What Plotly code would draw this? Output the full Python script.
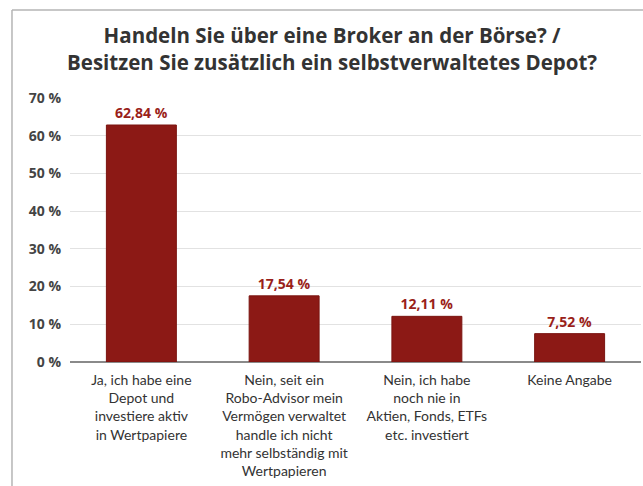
import plotly.graph_objects as go

title_lines = [
    "Handeln Sie über eine Broker an der Börse? /",
    "Besitzen Sie zusätzlich ein selbstverwaltetes Depot?",
]
categories = [
    "Ja, ich habe eine<br>Depot und<br>investiere aktiv<br>in Wertpapiere",
    "Nein, seit ein<br>Robo-Advisor mein<br>Vermögen verwaltet<br>handle ich nicht<br>mehr selbständig mit<br>Wertpapieren",
    "Nein, ich habe<br>noch nie in<br>Aktien, Fonds, ETFs<br>etc. investiert",
    "Keine Angabe",
]
values = [62.84, 17.54, 12.11, 7.52]
value_labels = ["62,84 %", "17,54 %", "12,11 %", "7,52 %"]
tick_vals = [0, 10, 20, 30, 40, 50, 60, 70]
tick_text = ["0 %", "10 %", "20 %", "30 %", "40 %", "50 %", "60 %", "70 %"]

fig = go.Figure(go.Bar(
    x=categories, y=values,
    text=value_labels, textposition="outside",
    textfont=dict(family="Open Sans", size=14, color="#9a1f1a", weight="bold"),
    marker=dict(color="#8c1915", line=dict(color="#7a1410", width=1)),
    width=0.49, cliponaxis=False,
))

fig.update_layout(
    width=643, height=486,
    margin=dict(l=70, r=2, t=98, b=124),
    paper_bgcolor="white", plot_bgcolor="white",
    showlegend=False,
    font=dict(family="Open Sans", color="#444444"),
    annotations=[dict(
        text="<b>" + "<br>".join(title_lines) + "</b>",
        xref="paper", yref="paper", x=0.4597, y=1.189,
        xanchor="center", yanchor="middle", showarrow=False, align="center",
        font=dict(family="Open Sans", size=20.5, color="#333333"),
    )],
    xaxis=dict(
        tickfont=dict(family="Lato", size=14, color="#333333"),
        showline=False, ticks="", ticklabelstandoff=8,
    ),
    yaxis=dict(
        range=[0, 70], tickvals=tick_vals, ticktext=tick_text,
        tickfont=dict(family="Open Sans", size=14, color="#444444", weight="bold"),
        showgrid=True, gridcolor="#e2e2e2", gridwidth=1,
        zeroline=True, zerolinecolor="#8a8a8a", zerolinewidth=2,
        ticks="", ticklabelstandoff=8,
    ),
    shapes=[
        dict(type="line", xref="paper", yref="paper", x0=-0.1016, x1=1.01, y0=1.333, y1=1.333,
             line=dict(color="#b5b5b5", width=1.5)),
        dict(type="line", xref="paper", yref="paper", x0=-0.1016, x1=-0.1016, y0=1.333, y1=-0.48,
             line=dict(color="#b5b5b5", width=1.5)),
    ],
)

fig.write_html("out.html", config={"displayModeBar": False},
               post_script="document.body.style.margin='0';")
